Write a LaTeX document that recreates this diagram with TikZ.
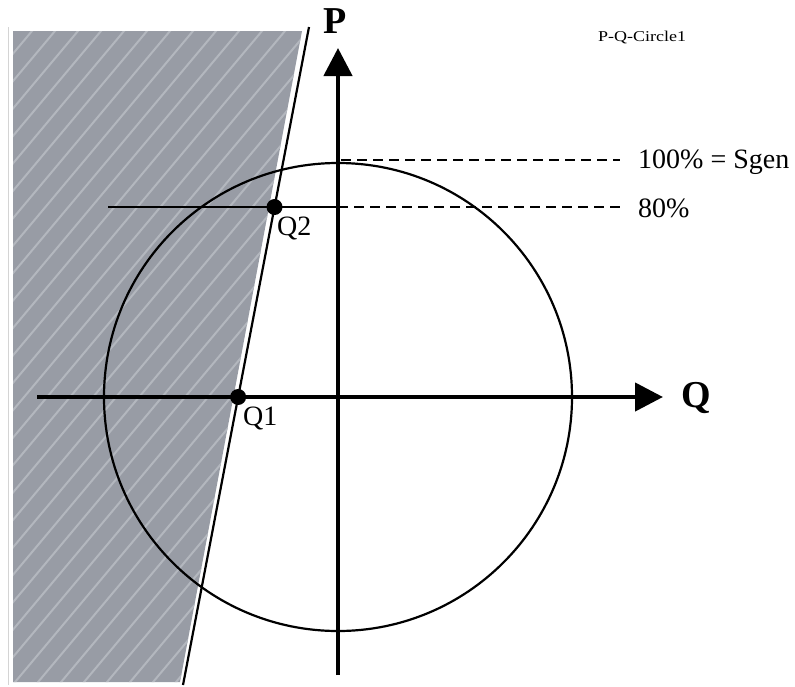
\documentclass[tikz,border=0pt]{standalone}
\usepackage{fontspec}
\setmainfont{Liberation Serif}
\usetikzlibrary{arrows.meta,calc}
\definecolor{regiongrey}{HTML}{989CA5}
\definecolor{stripegrey}{HTML}{B3B7BE}
\definecolor{faintgrey}{HTML}{D4D4D4}
\tikzset{
  axis/.style={line width=4.5pt,-{Triangle[length=28pt,width=28pt]}},
  thinline/.style={line width=2.2pt},
  dashline/.style={line width=2pt,dash pattern=on 10pt off 6pt},
  dot/.style={circle,fill=black,inner sep=0pt,minimum size=16pt},
  lab/.style={font=\fontsize{28}{30}\selectfont,inner sep=0pt},
  axlab/.style={font=\fontsize{38}{40}\selectfont\bfseries,inner sep=0pt}
}
\begin{document}
\begin{tikzpicture}[x=1pt,y=-1pt]
\useasboundingbox (0,0) rectangle (795,686);
% shaded region
\begin{scope}
  \clip (13,31) -- (302,31) -- (180,682) -- (13,682) -- cycle;
  \fill[regiongrey] (0,0) rectangle (400,700);
  \foreach \i in {-28,...,16}
    \draw[stripegrey,line width=2pt] (\i*23,700) -- (\i*23+587,0);
\end{scope}
\draw[faintgrey,line width=1pt] (8,27) -- (8,685);
% coordinates
\coordinate (O) at (338,397);
\coordinate (lt) at (309,27);
\coordinate (lb) at (183,685);
\coordinate (Q1) at ($(lt)!0.5623!(lb)$);
\coordinate (Q2) at ($(lt)!0.2736!(lb)$);
\coordinate (h80l) at (108,207);
\coordinate (h80m) at (338,207);
\coordinate (h80r) at (620,207);
\coordinate (h100m) at (341,160);
\coordinate (h100r) at (620,160);
\coordinate (pb) at (338,675);
\coordinate (pt) at (338,48);
\coordinate (ql) at (37,397);
\coordinate (qr) at (663,397);
% circle
\draw[thinline] (O) circle (234);
% slanted line
\draw[thinline] (lt) -- (lb);
% horizontal 80% line
\draw[line width=1.7pt] (h80l) -- (h80m);
\draw[dashline] (h80m) -- (h80r);
\draw[dashline] (h100m) -- (h100r);
% axes
\draw[axis] (pb) -- (pt);
\draw[axis] (ql) -- (qr);
% dots
\node[dot] (d1) at (Q1) {};
\node[dot] (d2) at (Q2) {};
% labels
\node[lab,anchor=base west] (q1l) at (243,425) {Q1};
\node[lab,anchor=base west] (q2l) at (277,235) {Q2};
\node[axlab,anchor=base west] (pl) at (323,33) {P};
\node[axlab,anchor=base west] (ql2) at (681,407) {Q};
\node[lab,anchor=base west] (t100) at (638,168) {100\% = Sgen};
\node[lab,anchor=base west] (t80) at (638,217) {80\%};
\node[inner sep=0pt,anchor=base west,font=\fontsize{15}{17}\selectfont] (title) at (598,41) {\scalebox{1.2}[1]{P-Q-Circle1}};
\end{tikzpicture}
\end{document}
